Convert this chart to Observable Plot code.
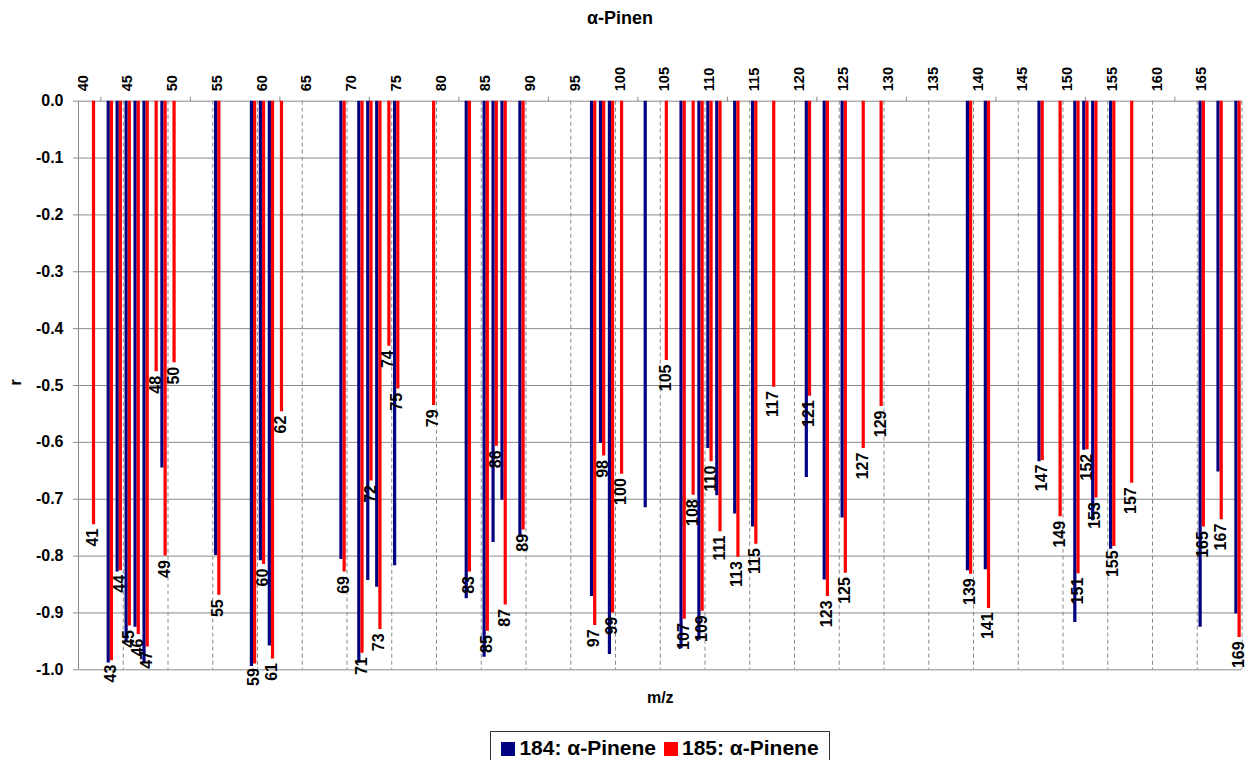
<!DOCTYPE html>
<html>
<head>
<meta charset="utf-8">
<script src="https://cdn.jsdelivr.net/npm/d3@7"></script>
<script src="https://cdn.jsdelivr.net/npm/@observablehq/plot@0.6"></script>
<style>
  html, body { margin: 0; padding: 0; background: #fff; }
  body { width: 1246px; height: 760px; position: relative; overflow: hidden;
         font-family: "Liberation Sans", Arial, sans-serif; font-weight: bold; color: #000; }
  #title { position: absolute; top: 7px; left: 0; width: 1240px; text-align: center; font-size: 18px; line-height: 22px; }
  #chart { position: absolute; top: 36px; left: 0; }
  #legend { position: absolute; top: 731px; left: 490px; width: 340px; height: 34px; border: 1px solid #333;
            box-sizing: border-box; display: flex; align-items: center; justify-content: center; gap: 8px; font-size: 21px; }
  .sw { display: inline-block; width: 14px; height: 14px; margin-right: 4px; vertical-align: -1px; }
</style>
</head>
<body>
<div id="title">α-Pinen</div>
<div id="chart"></div>
<div id="legend"></div>
<script>
// Series 184: α-Pinene (blue)
const blueName = "184: α-Pinene";
const blueMz = [43,44,45,46,47,49,55,59,60,61,69,71,72,73,75,83,85,86,87,89,97,98,99,103,107,109,110,111,113,115,121,123,125,139,141,147,151,152,153,155,165,167,169];
const blueR  = [-0.988,-0.828,-0.951,-0.925,-0.988,-0.645,-0.799,-0.994,-0.808,-0.958,-0.806,-0.988,-0.843,-0.855,-0.817,-0.875,-0.978,-0.776,-0.702,-0.765,-0.871,-0.602,-0.973,-0.715,-0.963,-0.948,-0.611,-0.694,-0.726,-0.749,-0.662,-0.842,-0.733,-0.826,-0.824,-0.634,-0.917,-0.614,-0.738,-0.788,-0.925,-0.652,-0.902];

// Series 185: α-Pinene (red)
const redName = "185: α-Pinene";
const redMz = [41,43,44,45,46,47,48,49,50,55,59,60,61,62,69,71,72,73,74,75,79,83,85,86,87,89,97,98,99,100,105,107,108,109,110,111,113,115,117,121,123,125,127,129,139,141,147,149,151,152,153,155,157,165,167,169];
const redR  = [-0.745,-0.984,-0.826,-0.923,-0.938,-0.960,-0.476,-0.800,-0.460,-0.869,-0.990,-0.815,-0.981,-0.546,-0.828,-0.971,-0.668,-0.929,-0.431,-0.506,-0.535,-0.828,-0.932,-0.607,-0.886,-0.754,-0.922,-0.624,-0.900,-0.656,-0.456,-0.911,-0.693,-0.897,-0.634,-0.757,-0.802,-0.779,-0.503,-0.519,-0.871,-0.830,-0.611,-0.537,-0.832,-0.892,-0.632,-0.731,-0.831,-0.613,-0.698,-0.783,-0.672,-0.749,-0.736,-0.943];

// Axis tick values
const xTickLabels = [40,45,50,55,60,65,70,75,80,85,90,95,100,105,110,115,120,125,130,135,140,145,150,155,160,165];
const xMinorTicks = [42,52,62,72,82,92,102,112,122,132,142,152,162];
const xGridBounds = [44.5,49.5,54.5,59.5,64.5,69.5,74.5,79.5,84.5,89.5,94.5,99.5,104.5,109.5,114.5,119.5,124.5,129.5,134.5,139.5,144.5,149.5,154.5,159.5,164.5,169.5];
const yTicks = [0,-0.1,-0.2,-0.3,-0.4,-0.5,-0.6,-0.7,-0.8,-0.9,-1.0];
const xDomain = [39.5, 169.5];
const yDomain = [-1, 0];

const blue = blueMz.map((m, i) => ({mz: m, r: blueR[i]}));
const red = redMz.map((m, i) => ({mz: m, r: redR[i]}));

const BLUE = "#000080", RED = "#ff0000", GRID = "#8a8a8a";
const font = "'Liberation Sans', Arial, sans-serif";

const chart = Plot.plot({
  width: 1246,
  height: 684,
  marginTop: 64.7,
  marginBottom: 50.7,
  marginLeft: 78,
  marginRight: 4.5,
  style: {fontFamily: font, fontWeight: "bold", color: "#000", background: "#fff"},
  x: {type: "linear", domain: xDomain},
  y: {domain: yDomain},
  marks: [
    Plot.ruleY(yTicks, {stroke: GRID, strokeWidth: 1}),
    Plot.ruleX(xGridBounds, {stroke: GRID, strokeWidth: 1, strokeDasharray: "4,3"}),
    Plot.ruleX([xDomain[0]], {stroke: GRID, strokeWidth: 1}),
    Plot.axisY({ticks: yTicks, tickFormat: d => d.toFixed(1), tickSize: 5, tickPadding: 10, stroke: GRID, fontSize: 16, label: null}),
    Plot.axisX({anchor: "top", ticks: xMinorTicks, tickSize: 5, tickFormat: () => "", stroke: GRID, label: null}),
    Plot.axisX({anchor: "top", ticks: xTickLabels, tickSize: 0, tickPadding: 10, tickRotate: -90, fontSize: 14.5, label: null}),
    Plot.ruleX(blue, {x: "mz", y1: 0, y2: "r", stroke: BLUE, strokeWidth: 3.2, dx: -1.6}),
    Plot.ruleX(red, {x: "mz", y1: 0, y2: "r", stroke: RED, strokeWidth: 3.2, dx: 1.6}),
    Plot.text(red, {x: "mz", y: "r", text: d => String(d.mz), rotate: -90, textAnchor: "end", dx: 1, dy: 4, fontSize: 16, fontWeight: "bold", fill: "#000"}),
    Plot.text(["m/z"], {frameAnchor: "bottom", dy: 33, fontSize: 16, fontWeight: "bold", fill: "#000"}),
    Plot.text(["r"], {frameAnchor: "left", dx: -63, rotate: -90, fontSize: 16, fontWeight: "bold", fill: "#000"})
  ]
});
document.getElementById("chart").appendChild(chart);

const legend = document.getElementById("legend");
[[blueName, BLUE], [redName, RED]].forEach(([name, col]) => {
  const s = document.createElement("span");
  s.innerHTML = `<span class="sw" style="background:${col}"></span>${name}`;
  legend.appendChild(s);
});
</script>
</body>
</html>
